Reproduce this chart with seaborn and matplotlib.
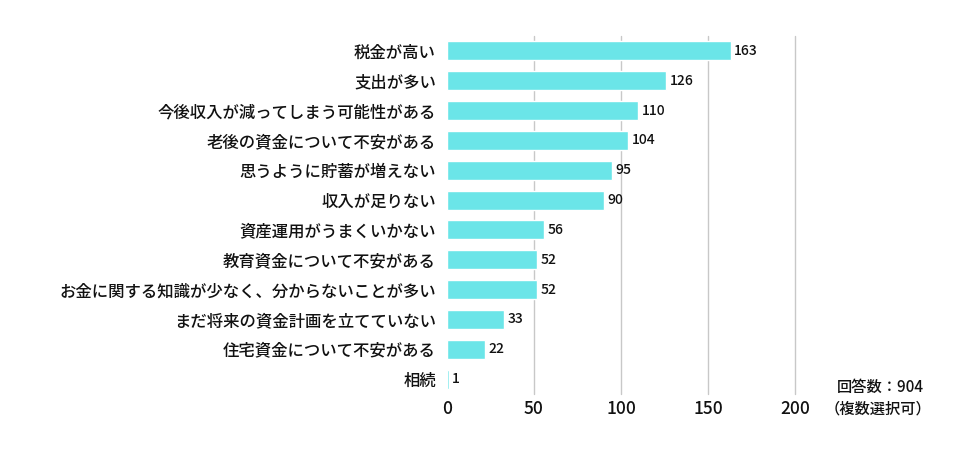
import pandas as pd
import matplotlib.pyplot as plt
import seaborn as sns

# Data
categories = [
    "税金が高い",
    "支出が多い",
    "今後収入が減ってしまう可能性がある",
    "老後の資金について不安がある",
    "思うように貯蓄が増えない",
    "収入が足りない",
    "資産運用がうまくいかない",
    "教育資金について不安がある",
    "お金に関する知識が少なく、分からないことが多い",
    "まだ将来の資金計画を立てていない",
    "住宅資金について不安がある",
    "相続",
]
counts = [163, 126, 110, 104, 95, 90, 56, 52, 52, 33, 22, 1]
x_ticks = [0, 50, 100, 150, 200]

df = pd.DataFrame({"item": categories, "count": counts})

sns.set_theme(style="white")
plt.rcParams["font.family"] = ["Noto Sans CJK JP", "DejaVu Sans"]
plt.rcParams["font.weight"] = "medium"

fig = plt.figure(figsize=(9.76, 4.59), dpi=100)
ax = fig.add_axes([0.458, 0.1416, 0.3566, 0.78])

sns.barplot(data=df, x="count", y="item", color="#6BE5E8", saturation=1,
            width=0.64, ax=ax, zorder=3)

ax.set_xlim(0, 200)
ax.set_ylim(len(categories) - 0.5, -0.5)
ax.set_xticks(x_ticks)
ax.set_xticklabels([str(t) for t in x_ticks], fontsize=12.5, color="#111111")
ax.tick_params(axis="y", labelsize=11.8, colors="#111111", length=0, pad=8)
ax.tick_params(axis="x", length=0, pad=4)
ax.set_xlabel("")
ax.set_ylabel("")

# vertical grid lines (the 200 line sits on the axis edge, so don't clip it)
for t in x_ticks[1:]:
    ax.axvline(t, color="#c8c8c8", lw=1, zorder=1, clip_on=False)

for s in ax.spines.values():
    s.set_visible(False)

for i, v in enumerate(counts):
    ax.text(v + 2, i, str(v), va="center", ha="left", fontsize=10, color="#111111")

fig.text(0.902, 0.157, "回答数：904", ha="center", va="center", fontsize=11, color="#111111")
fig.text(0.9, 0.11, "（複数選択可）", ha="center", va="center", fontsize=11, color="#111111")

fig.savefig("out.png", dpi=100)
